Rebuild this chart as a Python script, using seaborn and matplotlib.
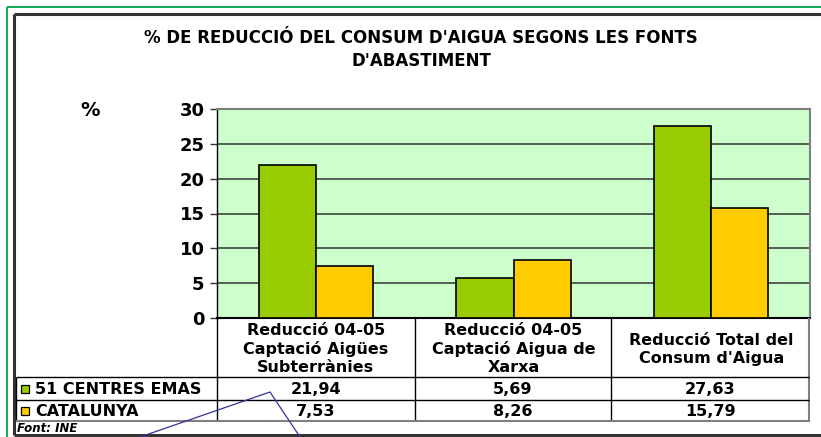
import matplotlib
matplotlib.use("Agg")
import matplotlib.pyplot as plt
from matplotlib.lines import Line2D
from matplotlib.patches import Rectangle
import seaborn as sns
import pandas as pd

# ---------------- data ----------------
categories = ["Reducció 04-05\nCaptació Aigües\nSubterrànies",
              "Reducció 04-05\nCaptació Aigua de\nXarxa",
              "Reducció Total del\nConsum d'Aigua"]
series_names = ["51 CENTRES EMAS", "CATALUNYA"]
emas_values = [21.94, 5.69, 27.63]
catalunya_values = [7.53, 8.26, 15.79]
table_labels_emas = ["21,94", "5,69", "27,63"]
table_labels_cat = ["7,53", "8,26", "15,79"]
y_ticks = [0, 5, 10, 15, 20, 25, 30]
title = "% DE REDUCCIÓ DEL CONSUM D'AIGUA SEGONS LES FONTS\nD'ABASTIMENT"
source = "Font: INE"

colors = ["#99CC00", "#FFCC00"]

sns.set_style("white")
plt.rcParams["font.family"] = ["DejaVu Sans"]
plt.rcParams["text.color"] = "black"
plt.rcParams["xtick.color"] = "black"
plt.rcParams["ytick.color"] = "black"
plt.rcParams["xtick.labelcolor"] = "black"
plt.rcParams["ytick.labelcolor"] = "black"

W, H = 821, 437
fig = plt.figure(figsize=(W / 100, H / 100), dpi=100)


def fx(x):
    return x / W


def fy(y):
    return 1 - y / H


def hline(y, x0, x1, color="black", lw=1.0):
    fig.add_artist(Line2D([fx(x0), fx(x1)], [fy(y), fy(y)], color=color, lw=lw,
                          transform=fig.transFigure, solid_capstyle="butt"))


def vline(x, y0, y1, color="black", lw=1.0):
    fig.add_artist(Line2D([fx(x), fx(x)], [fy(y0), fy(y1)], color=color, lw=lw,
                          transform=fig.transFigure, solid_capstyle="butt"))


# outer frames
hline(6.5, 6.5, W + 5, color="#00A651", lw=1.3)
vline(6.5, 6.5, H + 5, color="#00A651", lw=1.3)
hline(14, 14, W + 5, color="#333333", lw=2.2)
vline(14, 14, 434.5, color="#333333", lw=2.2)
hline(434.5, 14, W + 5, color="#333333", lw=2.2)

# ---------------- bars ----------------
df = pd.DataFrame({
    "cat": categories * 2,
    "val": emas_values + catalunya_values,
    "series": [series_names[0]] * 3 + [series_names[1]] * 3,
})

ax = fig.add_axes([fx(217), fy(318), (810 - 217) / W, (318 - 109) / H])
ax.set_facecolor("#CCFFCC")
sns.barplot(data=df, x="cat", y="val", hue="series", palette=colors,
            edgecolor="black", linewidth=1.2, width=0.58, gap=0,
            saturation=1, legend=False, ax=ax, zorder=3)
ax.set_xlim(-0.5, 2.5)
ax.set_ylim(0, 30)
ax.set_yticks(y_ticks)
ax.set_yticklabels([str(t) for t in y_ticks], fontweight="bold", fontsize=13)
ax.yaxis.grid(True, color="#333333", lw=1.1, zorder=0)
ax.set_axisbelow(True)
ax.tick_params(axis="y", direction="out", length=5, width=1, color="#333333", pad=4, left=True)
ax.tick_params(axis="x", length=0, pad=22.5)
ax.set_xticks(range(3))
ax.set_xticklabels(categories, fontweight="bold", fontsize=11.5, linespacing=1.26)
for t in ax.get_xticklabels():
    t.set_verticalalignment("center")
ax.set_xlabel("")
ax.set_ylabel("")
for s in ["top", "right"]:
    ax.spines[s].set_color("#808080")
    ax.spines[s].set_linewidth(1.5)
ax.spines["left"].set_color("black")
ax.spines["left"].set_linewidth(1.0)
ax.spines["bottom"].set_color("black")
ax.spines["bottom"].set_linewidth(1.5)

# ---------------- title / labels ----------------
fig.text(fx(421), fy(49.5), title, ha="center", va="center", fontsize=12,
         fontweight="bold", linespacing=1.3, color="black")
fig.text(fx(90), fy(110), "%", ha="center", va="center", fontsize=14,
         fontweight="bold", color="black")

# ---------------- data table ----------------
col_x = [217, 415, 611, 809]
for x in col_x[:-1]:
    vline(x, 318, 421, color="black", lw=1.0)
vline(809, 318, 421.5, color="#808080", lw=1.5)
vline(16, 377, 421, color="black", lw=1.0)
hline(377, 16, 809, color="black", lw=1.0)
hline(400, 16, 809, color="black", lw=1.0)
hline(421, 16, 809.7, color="#808080", lw=1.5)

centers = [(col_x[i] + col_x[i + 1]) / 2 for i in range(3)]
for c, lab in zip(centers, table_labels_emas):
    fig.text(fx(c), fy(389), lab, ha="center", va="center", fontsize=11.5,
             fontweight="bold", color="black")
for c, lab in zip(centers, table_labels_cat):
    fig.text(fx(c), fy(411), lab, ha="center", va="center", fontsize=11.5,
             fontweight="bold", color="black")

for yc, name, col in [(389, series_names[0], colors[0]), (411, series_names[1], colors[1])]:
    fig.add_artist(Rectangle((fx(20.5), fy(yc + 4)), 8 / W, 8 / H, facecolor=col,
                             edgecolor="black", lw=0.9, transform=fig.transFigure))
    fig.text(fx(35), fy(yc), name, ha="left", va="center", fontsize=11.5,
             fontweight="bold", color="black")

fig.text(fx(17), fy(428), source, ha="left", va="center", fontsize=8.5,
         fontweight="bold", fontstyle="italic", color="black")

# callout artefact lines
fig.add_artist(Line2D([fx(140), fx(270), fx(300)], [fy(437), fy(392), fy(437)],
                      color="#333399", lw=0.9, transform=fig.transFigure))

fig.savefig("out.png", dpi=100)
